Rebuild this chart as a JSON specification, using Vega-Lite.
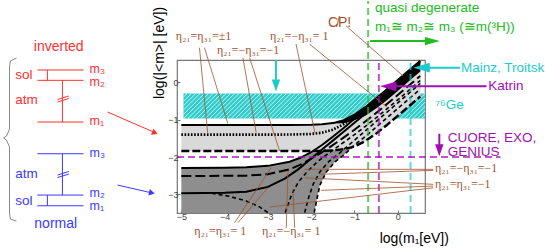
{
"$schema":"https://vega.github.io/schema/vega-lite/v6.json",
"width":248,"height":153,
"padding":{"left":1,"top":0,"right":0,"bottom":0},
"background":"white",
"config":{"view":{"stroke":"#777777","strokeWidth":1.2},"axis":{"grid":false,"domain":false,"title":null,"labelFont":"Liberation Sans","labelFontSize":9,"labelColor":"#444444","tickColor":"#777777","tickSize":-3,"labelPadding":2}},
"datasets":{
"band":[{"x":-4.95,"x2":0.63,"y":-0.3,"y2":-0.97}],
"hatch":[
{"x":-4.95,"y":-0.3925,"x2":-4.87,"y2":-0.3},{"x":-4.95,"y":-0.508,"x2":-4.77,"y2":-0.3},{"x":-4.95,"y":-0.6235,"x2":-4.67,"y2":-0.3},{"x":-4.95,"y":-0.739,"x2":-4.57,"y2":-0.3},{"x":-4.95,"y":-0.8545,"x2":-4.47,"y2":-0.3},
{"x":-4.95,"y":-0.97,"x2":-4.37,"y2":-0.3},{"x":-4.85,"y":-0.97,"x2":-4.27,"y2":-0.3},{"x":-4.75,"y":-0.97,"x2":-4.17,"y2":-0.3},{"x":-4.65,"y":-0.97,"x2":-4.07,"y2":-0.3},{"x":-4.55,"y":-0.97,"x2":-3.97,"y2":-0.3},{"x":-4.45,"y":-0.97,"x2":-3.87,"y2":-0.3},{"x":-4.35,"y":-0.97,"x2":-3.77,"y2":-0.3},{"x":-4.25,"y":-0.97,"x2":-3.67,"y2":-0.3},{"x":-4.15,"y":-0.97,"x2":-3.57,"y2":-0.3},{"x":-4.05,"y":-0.97,"x2":-3.47,"y2":-0.3},
{"x":-3.95,"y":-0.97,"x2":-3.37,"y2":-0.3},{"x":-3.85,"y":-0.97,"x2":-3.27,"y2":-0.3},{"x":-3.75,"y":-0.97,"x2":-3.17,"y2":-0.3},{"x":-3.65,"y":-0.97,"x2":-3.07,"y2":-0.3},{"x":-3.55,"y":-0.97,"x2":-2.97,"y2":-0.3},{"x":-3.45,"y":-0.97,"x2":-2.87,"y2":-0.3},{"x":-3.35,"y":-0.97,"x2":-2.77,"y2":-0.3},{"x":-3.25,"y":-0.97,"x2":-2.67,"y2":-0.3},{"x":-3.15,"y":-0.97,"x2":-2.57,"y2":-0.3},{"x":-3.05,"y":-0.97,"x2":-2.47,"y2":-0.3},
{"x":-2.95,"y":-0.97,"x2":-2.37,"y2":-0.3},{"x":-2.85,"y":-0.97,"x2":-2.27,"y2":-0.3},{"x":-2.75,"y":-0.97,"x2":-2.17,"y2":-0.3},{"x":-2.65,"y":-0.97,"x2":-2.07,"y2":-0.3},{"x":-2.55,"y":-0.97,"x2":-1.97,"y2":-0.3},{"x":-2.45,"y":-0.97,"x2":-1.87,"y2":-0.3},{"x":-2.35,"y":-0.97,"x2":-1.77,"y2":-0.3},{"x":-2.25,"y":-0.97,"x2":-1.67,"y2":-0.3},{"x":-2.15,"y":-0.97,"x2":-1.57,"y2":-0.3},{"x":-2.05,"y":-0.97,"x2":-1.47,"y2":-0.3},
{"x":-1.95,"y":-0.97,"x2":-1.37,"y2":-0.3},{"x":-1.85,"y":-0.97,"x2":-1.27,"y2":-0.3},{"x":-1.75,"y":-0.97,"x2":-1.17,"y2":-0.3},{"x":-1.65,"y":-0.97,"x2":-1.07,"y2":-0.3},{"x":-1.55,"y":-0.97,"x2":-0.97,"y2":-0.3},{"x":-1.45,"y":-0.97,"x2":-0.87,"y2":-0.3},{"x":-1.35,"y":-0.97,"x2":-0.77,"y2":-0.3},{"x":-1.25,"y":-0.97,"x2":-0.67,"y2":-0.3},{"x":-1.15,"y":-0.97,"x2":-0.57,"y2":-0.3},{"x":-1.05,"y":-0.97,"x2":-0.47,"y2":-0.3},
{"x":-0.95,"y":-0.97,"x2":-0.37,"y2":-0.3},{"x":-0.85,"y":-0.97,"x2":-0.27,"y2":-0.3},{"x":-0.75,"y":-0.97,"x2":-0.17,"y2":-0.3},{"x":-0.65,"y":-0.97,"x2":-0.07,"y2":-0.3},{"x":-0.55,"y":-0.97,"x2":0.03,"y2":-0.3},{"x":-0.45,"y":-0.97,"x2":0.13,"y2":-0.3},{"x":-0.35,"y":-0.97,"x2":0.23,"y2":-0.3},{"x":-0.25,"y":-0.97,"x2":0.33,"y2":-0.3},{"x":-0.15,"y":-0.97,"x2":0.43,"y2":-0.3},{"x":-0.05,"y":-0.97,"x2":0.53,"y2":-0.3},{"x":0.05,"y":-0.97,"x2":0.63,"y2":-0.3},
{"x":0.15,"y":-0.97,"x2":0.63,"y2":-0.4155},{"x":0.25,"y":-0.97,"x2":0.63,"y2":-0.531},{"x":0.35,"y":-0.97,"x2":0.63,"y2":-0.6465},{"x":0.45,"y":-0.97,"x2":0.63,"y2":-0.762},{"x":0.55,"y":-0.97,"x2":0.63,"y2":-0.8776}],
"normal":[
{"x":-5,"y":-2.293,"y2":-3.5},{"x":-4,"y":-2.288,"y2":-3.5},{"x":-3.5,"y":-2.275,"y2":-3.5},{"x":-3,"y":-2.237,"y2":-3.5},{"x":-2.5,"y":-2.127,"y2":-3.5},{"x":-2.25,"y":-2.021,"y2":-3.5},{"x":-2,"y":-1.871,"y2":-3.5},{"x":-1.93,"y":-1.82,"y2":-3.5},{"x":-1.88,"y":-1.785,"y2":-3.2},{"x":-1.8,"y":-1.718,"y2":-2.76},{"x":-1.65,"y":-1.593,"y2":-2.4},{"x":-1.45,"y":-1.41,"y2":-2.13},{"x":-1.25,"y":-1.222,"y2":-1.95},{"x":-1,"y":-0.977,"y2":-1.68},{"x":-0.75,"y":-0.729,"y2":-1.45},{"x":-0.5,"y":-0.48,"y2":-1.2},{"x":-0.25,"y":-0.23,"y2":-0.95},{"x":0,"y":0.02,"y2":-0.7},{"x":0.25,"y":0.27,"y2":-0.45},{"x":0.52,"y":0.54,"y2":-0.18}],
"inverted":[
{"x":-5,"y":-1.14,"y2":-1.839},{"x":-3,"y":-1.14,"y2":-1.839},{"x":-2.5,"y":-1.14,"y2":-1.838},{"x":-2,"y":-1.135,"y2":-1.837},{"x":-1.75,"y":-1.124,"y2":-1.834},{"x":-1.5,"y":-1.091,"y2":-1.823},{"x":-1.25,"y":-1.013,"y2":-1.792},{"x":-1,"y":-0.867,"y2":-1.717},{"x":-0.75,"y":-0.664,"y2":-1.574},{"x":-0.5,"y":-0.431,"y2":-1.373},{"x":-0.25,"y":-0.187,"y2":-1.141},{"x":0,"y":0.062,"y2":-0.897},{"x":0.25,"y":0.311,"y2":-0.649},{"x":0.52,"y":0.581,"y2":-0.379}],
"black":[
{"x":-1.6,"y":-1.1,"y2":-1.1},{"x":-1.25,"y":-1.013,"y2":-1.093},{"x":-1,"y":-0.867,"y2":-1.017},{"x":-0.75,"y":-0.664,"y2":-0.894},{"x":-0.5,"y":-0.431,"y2":-0.701},{"x":-0.25,"y":-0.187,"y2":-0.477},{"x":0,"y":0.062,"y2":-0.228},{"x":0.25,"y":0.311,"y2":0.021},{"x":0.52,"y":0.581,"y2":0.291}],
"curves":[
{"c":"IU","x":-5,"y":-1.14},{"c":"IU","x":-3,"y":-1.14},{"c":"IU","x":-2.5,"y":-1.14},{"c":"IU","x":-2,"y":-1.135},{"c":"IU","x":-1.75,"y":-1.124},{"c":"IU","x":-1.5,"y":-1.091},{"c":"IU","x":-1.25,"y":-1.013},{"c":"IU","x":-1,"y":-0.867},{"c":"IU","x":-0.75,"y":-0.664},{"c":"IU","x":-0.5,"y":-0.431},{"c":"IU","x":-0.25,"y":-0.187},{"c":"IU","x":0,"y":0.062},{"c":"IU","x":0.25,"y":0.311},{"c":"IU","x":0.52,"y":0.581},
{"c":"DOT","x":-5,"y":-1.4},{"c":"DOT","x":-3,"y":-1.4},{"c":"DOT","x":-2.5,"y":-1.398},{"c":"DOT","x":-2,"y":-1.383},{"c":"DOT","x":-1.75,"y":-1.349},{"c":"DOT","x":-1.5,"y":-1.268},{"c":"DOT","x":-1.25,"y":-1.12},{"c":"DOT","x":-1,"y":-0.915},{"c":"DOT","x":-0.75,"y":-0.681},
{"c":"IL","x":-5,"y":-1.839},{"c":"IL","x":-3,"y":-1.839},{"c":"IL","x":-2.5,"y":-1.838},{"c":"IL","x":-2,"y":-1.837},{"c":"IL","x":-1.75,"y":-1.834},{"c":"IL","x":-1.5,"y":-1.823},{"c":"IL","x":-1.25,"y":-1.792},{"c":"IL","x":-1,"y":-1.717},{"c":"IL","x":-0.75,"y":-1.574},{"c":"IL","x":-0.5,"y":-1.373},{"c":"IL","x":-0.25,"y":-1.141},{"c":"IL","x":0,"y":-0.897},{"c":"IL","x":0.25,"y":-0.649},{"c":"IL","x":0.52,"y":-0.379},
{"c":"NU","x":-5,"y":-2.293},{"c":"NU","x":-4,"y":-2.288},{"c":"NU","x":-3.5,"y":-2.275},{"c":"NU","x":-3,"y":-2.237},{"c":"NU","x":-2.5,"y":-2.127},{"c":"NU","x":-2.25,"y":-2.021},{"c":"NU","x":-2,"y":-1.871},{"c":"NU","x":-1.75,"y":-1.679},{"c":"NU","x":-1.5,"y":-1.458},{"c":"NU","x":-1.25,"y":-1.222},{"c":"NU","x":-1,"y":-0.977},{"c":"NU","x":-0.75,"y":-0.729},{"c":"NU","x":-0.5,"y":-0.48},{"c":"NU","x":-0.25,"y":-0.23},{"c":"NU","x":0,"y":0.02},{"c":"NU","x":0.25,"y":0.27},{"c":"NU","x":0.52,"y":0.54},
{"c":"NSOLID","x":-5,"y":-2.97},{"c":"NSOLID","x":-4,"y":-2.96},{"c":"NSOLID","x":-3.5,"y":-2.93},{"c":"NSOLID","x":-3,"y":-2.8},{"c":"NSOLID","x":-2.6,"y":-2.57},{"c":"NSOLID","x":-2.3,"y":-2.33},{"c":"NSOLID","x":-2,"y":-2.04},{"c":"NSOLID","x":-1.75,"y":-1.8},{"c":"NSOLID","x":-1.5,"y":-1.56},{"c":"NSOLID","x":-1.25,"y":-1.32},{"c":"NSOLID","x":-1,"y":-1.08},{"c":"NSOLID","x":-0.75,"y":-0.84},
{"c":"NDASH","x":-5,"y":-2.51},{"c":"NDASH","x":-3.5,"y":-2.5},{"c":"NDASH","x":-3,"y":-2.46},{"c":"NDASH","x":-2.5,"y":-2.33},{"c":"NDASH","x":-2.2,"y":-2.18},{"c":"NDASH","x":-1.9,"y":-1.98},{"c":"NDASH","x":-1.6,"y":-1.76},{"c":"NDASH","x":-1.3,"y":-1.52},{"c":"NDASH","x":-1,"y":-1.27},{"c":"NDASH","x":-0.75,"y":-1.05},{"c":"NDASH","x":-0.5,"y":-0.82},{"c":"NDASH","x":-0.25,"y":-0.58},{"c":"NDASH","x":0,"y":-0.34},{"c":"NDASH","x":0.25,"y":-0.09},{"c":"NDASH","x":0.52,"y":0.17},
{"c":"SDASH","x":-4.3,"y":-2.97},{"c":"SDASH","x":-3.9,"y":-3.05},{"c":"SDASH","x":-3.5,"y":-3.18},{"c":"SDASH","x":-3.2,"y":-3.33},{"c":"SDASH","x":-3.0,"y":-3.49},
{"c":"D1","x":-2.6,"y":-3.49},{"c":"D1","x":-2.45,"y":-3.0},{"c":"D1","x":-2.3,"y":-2.68},{"c":"D1","x":-2.1,"y":-2.4},{"c":"D1","x":-1.85,"y":-2.12},{"c":"D1","x":-1.6,"y":-1.9},{"c":"D1","x":-1.3,"y":-1.65},{"c":"D1","x":-1,"y":-1.4},{"c":"D1","x":-0.75,"y":-1.18},{"c":"D1","x":-0.5,"y":-0.95},{"c":"D1","x":-0.25,"y":-0.71},{"c":"D1","x":0,"y":-0.47},{"c":"D1","x":0.25,"y":-0.22},{"c":"D1","x":0.52,"y":0.05},
{"c":"D2","x":-2.15,"y":-3.49},{"c":"D2","x":-2.05,"y":-3.05},{"c":"D2","x":-1.95,"y":-2.72},{"c":"D2","x":-1.8,"y":-2.4},{"c":"D2","x":-1.6,"y":-2.13},{"c":"D2","x":-1.35,"y":-1.9},{"c":"D2","x":-1,"y":-1.55},{"c":"D2","x":-0.75,"y":-1.3},{"c":"D2","x":-0.5,"y":-1.05},{"c":"D2","x":-0.25,"y":-0.8},{"c":"D2","x":0,"y":-0.55},{"c":"D2","x":0.25,"y":-0.3},{"c":"D2","x":0.52,"y":-0.03},
{"c":"NL","x":-1.93,"y":-3.49},{"c":"NL","x":-1.88,"y":-3.2},{"c":"NL","x":-1.8,"y":-2.76},{"c":"NL","x":-1.65,"y":-2.4},{"c":"NL","x":-1.45,"y":-2.13},{"c":"NL","x":-1.25,"y":-1.95},{"c":"NL","x":-1,"y":-1.68},{"c":"NL","x":-0.75,"y":-1.45},{"c":"NL","x":-0.5,"y":-1.2},{"c":"NL","x":-0.25,"y":-0.95},{"c":"NL","x":0,"y":-0.7},{"c":"NL","x":0.25,"y":-0.45},{"c":"NL","x":0.52,"y":-0.18}],
"refs":[
{"k":"degenerate","x":-0.684,"y":-3.5,"x2":-0.684,"y2":2.18},
{"k":"Katrin","x":-0.436,"y":-3.5,"x2":-0.436,"y2":0.6},
{"k":"Mainz","x":0.296,"y":-3.5,"x2":0.296,"y2":0.6},
{"k":"Katrin","x":-5.1,"y":-2,"x2":2.373,"y2":-2}],
"leaders":[
{"x":-4.581,"y":0.93,"x2":-4.389,"y2":-1.384},
{"x":-4.465,"y":0.93,"x2":-3.926,"y2":-1.1},
{"x":-3.578,"y":0.662,"x2":-3.27,"y2":-1.35},
{"x":-3.423,"y":0.662,"x2":-2.729,"y2":-1.84},
{"x":-2.351,"y":1.029,"x2":-1.911,"y2":-1.357},
{"x":-2.034,"y":1.021,"x2":-0.22,"y2":-0.687},
{"x":-1.193,"y":1.512,"x2":0.127,"y2":0.171},
{"x":-3.771,"y":-3.762,"x2":-2.923,"y2":-2.287},
{"x":-3.694,"y":-3.762,"x2":-3.0,"y2":-2.824},
{"x":-2.576,"y":-3.9,"x2":-2.536,"y2":-2.376},
{"x":-2.381,"y":-3.9,"x2":-2.421,"y2":-2.866},
{"x":0.822,"y":-2.33,"x2":-2.15,"y2":-2.33},
{"x":0.822,"y":-2.357,"x2":-1.802,"y2":-2.464},
{"x":0.822,"y":-2.732,"x2":-2.15,"y2":-2.555},
{"x":0.822,"y":-2.778,"x2":-1.765,"y2":-2.893},
{"x":0.822,"y":-2.824,"x2":-2.96,"y2":-3.341}],
"arrows":[
{"k":"Mainz","x":0.6,"y":0.394,"x2":1.44,"y2":0.394},
{"k":"Katrin","x":-0.15,"y":-0.105,"x2":2.05,"y2":-0.105},
{"k":"degenerate","x":-0.637,"y":1.109,"x2":0.7,"y2":1.109},
{"k":"Mainz","x":-2.814,"y":0.6,"x2":-2.814,"y2":0.0},
{"k":"Katrin","x":0.961,"y":-1.376,"x2":0.961,"y2":-1.72}],
"headsLeft":[{"k":"Mainz","x":0.551,"y":0.394},{"k":"Katrin","x":-0.22,"y":-0.105}],
"headsRight":[{"k":"degenerate","x":0.8,"y":1.109}],
"headsDown":[{"k":"Mainz","x":-2.814,"y":-0.084},{"k":"Katrin","x":0.961,"y":-1.818}],
"levels":[
{"k":"inverted","x":-8.326,"y":0.332,"x2":-7.261,"y2":0.332},
{"k":"inverted","x":-8.326,"y":0.055,"x2":-7.261,"y2":0.055},
{"k":"inverted","x":-8.326,"y":-1.062,"x2":-7.261,"y2":-1.062},
{"k":"inverted","x":-8.094,"y":0.332,"x2":-8.094,"y2":0.055},
{"k":"inverted","x":-7.747,"y":0.055,"x2":-7.747,"y2":-1.062},
{"k":"inverted","x":-7.86,"y":-0.459,"x2":-7.6,"y2":-0.365},
{"k":"inverted","x":-7.86,"y":-0.526,"x2":-7.6,"y2":-0.432},
{"k":"inverted","x":-6.705,"y":-0.794,"x2":-5.62,"y2":-1.34},
{"k":"normal","x":-8.326,"y":-1.912,"x2":-7.261,"y2":-1.912},
{"k":"normal","x":-8.326,"y":-3.019,"x2":-7.261,"y2":-3.019},
{"k":"normal","x":-8.326,"y":-3.306,"x2":-7.261,"y2":-3.306},
{"k":"normal","x":-7.747,"y":-1.912,"x2":-7.747,"y2":-3.019},
{"k":"normal","x":-8.094,"y":-3.019,"x2":-8.094,"y2":-3.306},
{"k":"normal","x":-7.86,"y":-2.483,"x2":-7.6,"y2":-2.389},
{"k":"normal","x":-7.86,"y":-2.55,"x2":-7.6,"y2":-2.456},
{"k":"normal","x":-6.473,"y":-2.751,"x2":-5.7,"y2":-2.957}],
"brace":[
{"o":1,"x":-8.81,"y":0.654},{"o":2,"x":-8.95,"y":0.573},{"o":3,"x":-8.97,"y":0.412},{"o":4,"x":-8.97,"y":-1.25},{"o":5,"x":-9.04,"y":-1.438},{"o":6,"x":-9.11,"y":-1.491},{"o":7,"x":-9.04,"y":-1.545},{"o":8,"x":-8.97,"y":-1.732},{"o":9,"x":-8.97,"y":-3.502},{"o":10,"x":-8.95,"y":-3.663},{"o":11,"x":-8.81,"y":-3.716}],
"labelsLeft":[
{"k":"Mainz","t":"Mainz, Troitsk","x":1.46,"y":0.394},
{"k":"Katrin","t":"Katrin","x":2.09,"y":-0.105},
{"k":"Mainz","t":"⁷⁶Ge","x":0.866,"y":-0.606},
{"k":"Katrin","t":"CUORE, EXO,","x":1.153,"y":-1.5},
{"k":"Katrin","t":"GENIUS","x":1.153,"y":-1.87},
{"k":"degenerate","t":"quasi degenerate","x":-0.528,"y":1.986},
{"k":"degenerate","t":"m₁≅ m₂≅ m₃ (≅m(³H))","x":-0.528,"y":1.485},
{"k":"inverted","t":"sol","x":-8.835,"y":0.198},
{"k":"inverted","t":"atm","x":-8.835,"y":-0.472},
{"k":"normal","t":"atm","x":-8.835,"y":-2.464},
{"k":"normal","t":"sol","x":-8.835,"y":-3.18}],
"mlabels":[
{"k":"inverted","t":"m₃","x":-7.122,"y":0.37},
{"k":"inverted","t":"m₂","x":-7.122,"y":0.02},
{"k":"inverted","t":"m₁","x":-7.122,"y":-1.035},
{"k":"normal","t":"m₃","x":-7.122,"y":-1.885},
{"k":"normal","t":"m₂","x":-7.122,"y":-2.96},
{"k":"normal","t":"m₁","x":-7.122,"y":-3.31}],
"labelsCenter":[
{"k":"inverted","t":"inverted","x":-7.833,"y":0.949},
{"k":"normal","t":"normal","x":-7.902,"y":-3.805},
{"k":"axis","t":"log(m₁[eV])","x":0.382,"y":-4.199},
{"k":"eta","t":"C̸P!","x":-1.344,"y":1.592}],
"etaCenter":[
{"t":"η₂₁=η₃₁=±1","x":-4.486,"y":1.243},
{"t":"η₂₁=−η₃₁=−1","x":-3.456,"y":0.868},
{"t":"η₂₁=−η₃₁= 1","x":-2.275,"y":1.243},
{"t":"η₂₁=η₃₁= 1","x":-4.1,"y":-3.985},
{"t":"η₂₁=−η₃₁= 1","x":-2.46,"y":-3.985}],
"etaLeft":[
{"t":"η₂₁=−η₃₁=−1","x":0.861,"y":-2.287},
{"t":"η₂₁=η₃₁=−1","x":0.861,"y":-2.732}],
"ytitle":[{"t":"log(|<m>| [eV])","x":-5.489,"y":0.788}]
},
"encoding":{
"x":{"field":"x","type":"quantitative","scale":{"domain":[-5.1,0.63],"nice":false,"zero":false},"axis":{"values":[-5,-4,-3,-2,-1,0],"title":null}},
"y":{"field":"y","type":"quantitative","scale":{"domain":[-3.5,0.6],"nice":false,"zero":false},"axis":{"values":[-3,-2,-1,0],"title":null}}
},
"layer":[
{"data":{"name":"band"},"mark":{"type":"rect","color":"#2fcccc"},"encoding":{"x2":{"field":"x2"},"y2":{"field":"y2"}}},
{"data":{"name":"hatch"},"mark":{"type":"rule","color":"#ffffff","strokeWidth":1,"opacity":0.75},"encoding":{"x2":{"field":"x2"},"y2":{"field":"y2"}}},
{"data":{"name":"normal"},"mark":{"type":"area","color":"#8e8e8e","opacity":1},"encoding":{"y2":{"field":"y2"}}},
{"data":{"name":"inverted"},"mark":{"type":"area","color":"#d9d9d9","opacity":1},"encoding":{"y2":{"field":"y2"}}},
{"data":{"name":"black"},"mark":{"type":"area","color":"#000000","opacity":1},"encoding":{"y2":{"field":"y2"}}},
{"data":{"name":"curves"},"transform":[{"filter":{"field":"c","oneOf":["IU","NU","NSOLID"]}}],"mark":{"type":"line","color":"#000000","strokeWidth":2},"encoding":{"detail":{"field":"c"}}},
{"data":{"name":"curves"},"transform":[{"filter":{"field":"c","oneOf":["DOT"]}}],"mark":{"type":"line","color":"#000000","strokeWidth":2.6,"strokeDash":[1.6,1.6]},"encoding":{"detail":{"field":"c"}}},
{"data":{"name":"curves"},"transform":[{"filter":{"field":"c","oneOf":["IL"]}}],"mark":{"type":"line","color":"#000000","strokeWidth":2.4,"strokeDash":[8,3]},"encoding":{"detail":{"field":"c"}}},
{"data":{"name":"curves"},"transform":[{"filter":{"field":"c","oneOf":["NDASH"]}}],"mark":{"type":"line","color":"#000000","strokeWidth":2,"strokeDash":[10,4]},"encoding":{"detail":{"field":"c"}}},
{"data":{"name":"curves"},"transform":[{"filter":{"field":"c","oneOf":["SDASH","D1","D2","NL"]}}],"mark":{"type":"line","color":"#000000","strokeWidth":1.6,"strokeDash":[4,3]},"encoding":{"detail":{"field":"c"}}},
{"data":{"name":"refs"},"mark":{"type":"rule","strokeWidth":2,"strokeDash":[7,4],"opacity":0.7},"encoding":{"x2":{"field":"x2"},"y2":{"field":"y2"},"color":{"field":"k","type":"nominal","legend":null,"scale":{"domain":["inverted","normal","Mainz","Katrin","degenerate","eta","axis"],"range":["#ff3030","#3a3aff","#1ccccc","#a010b0","#22bb22","#a0522d","#000000"]}}}},
{"data":{"name":"leaders"},"mark":{"type":"rule","color":"#a0522d","strokeWidth":0.8},"encoding":{"x2":{"field":"x2"},"y2":{"field":"y2"}}},
{"data":{"name":"arrows"},"mark":{"type":"rule","strokeWidth":2},"encoding":{"x2":{"field":"x2"},"y2":{"field":"y2"},"color":{"field":"k","type":"nominal","legend":null,"scale":{"domain":["inverted","normal","Mainz","Katrin","degenerate","eta","axis"],"range":["#ff3030","#3a3aff","#1ccccc","#a010b0","#22bb22","#a0522d","#000000"]}}}},
{"data":{"name":"headsLeft"},"mark":{"type":"point","shape":"M1,-0.6L1,0.6L-1,0Z","size":270,"filled":true,"opacity":1,"strokeWidth":0},"encoding":{"color":{"field":"k","type":"nominal","legend":null,"scale":{"domain":["inverted","normal","Mainz","Katrin","degenerate","eta","axis"],"range":["#ff3030","#3a3aff","#1ccccc","#a010b0","#22bb22","#a0522d","#000000"]}}}},
{"data":{"name":"headsRight"},"mark":{"type":"point","shape":"M-1,-0.55L-1,0.55L1,0Z","size":225,"filled":true,"opacity":1,"strokeWidth":0},"encoding":{"color":{"field":"k","type":"nominal","legend":null,"scale":{"domain":["inverted","normal","Mainz","Katrin","degenerate","eta","axis"],"range":["#ff3030","#3a3aff","#1ccccc","#a010b0","#22bb22","#a0522d","#000000"]}}}},
{"data":{"name":"headsDown"},"mark":{"type":"point","shape":"M-0.7,-1L0.7,-1L0,1Z","size":144,"filled":true,"opacity":1,"strokeWidth":0},"encoding":{"color":{"field":"k","type":"nominal","legend":null,"scale":{"domain":["inverted","normal","Mainz","Katrin","degenerate","eta","axis"],"range":["#ff3030","#3a3aff","#1ccccc","#a010b0","#22bb22","#a0522d","#000000"]}}}},
{"data":{"name":"levels"},"mark":{"type":"rule","strokeWidth":1},"encoding":{"x2":{"field":"x2"},"y2":{"field":"y2"},"color":{"field":"k","type":"nominal","legend":null,"scale":{"domain":["inverted","normal","Mainz","Katrin","degenerate","eta","axis"],"range":["#ff3030","#3a3aff","#1ccccc","#a010b0","#22bb22","#a0522d","#000000"]}}}},
{"data":{"values":[{"x":-5.61,"y":-1.35}]},"mark":{"type":"point","shape":"triangle-right","angle":24,"size":45,"filled":true,"opacity":1,"color":"#ff3030","strokeWidth":0}},
{"data":{"values":[{"x":-5.68,"y":-2.96}]},"mark":{"type":"point","shape":"triangle-right","angle":13,"size":45,"filled":true,"opacity":1,"color":"#3a3aff","strokeWidth":0}},
{"data":{"name":"brace"},"mark":{"type":"line","color":"#888888","strokeWidth":1},"encoding":{"order":{"field":"o","type":"quantitative"}}},
{"data":{"name":"labelsLeft"},"mark":{"type":"text","align":"left","baseline":"middle","font":"Liberation Sans","fontSize":13.5},"encoding":{"text":{"field":"t"},"color":{"field":"k","type":"nominal","legend":null,"scale":{"domain":["inverted","normal","Mainz","Katrin","degenerate","eta","axis"],"range":["#ff3030","#3a3aff","#1ccccc","#a010b0","#22bb22","#a0522d","#000000"]}}}},
{"data":{"name":"mlabels"},"mark":{"type":"text","align":"left","baseline":"middle","font":"Liberation Sans","fontSize":12.5},"encoding":{"text":{"field":"t"},"color":{"field":"k","type":"nominal","legend":null,"scale":{"domain":["inverted","normal","Mainz","Katrin","degenerate","eta","axis"],"range":["#ff3030","#3a3aff","#1ccccc","#a010b0","#22bb22","#a0522d","#000000"]}}}},
{"data":{"name":"labelsCenter"},"mark":{"type":"text","align":"center","baseline":"middle","font":"Liberation Sans","fontSize":14},"encoding":{"text":{"field":"t"},"color":{"field":"k","type":"nominal","legend":null,"scale":{"domain":["inverted","normal","Mainz","Katrin","degenerate","eta","axis"],"range":["#ff3030","#3a3aff","#1ccccc","#a010b0","#22bb22","#a0522d","#000000"]}}}},
{"data":{"name":"etaCenter"},"mark":{"type":"text","align":"center","baseline":"middle","font":"Liberation Serif","fontSize":12,"color":"#a0522d"},"encoding":{"text":{"field":"t"}}},
{"data":{"name":"etaLeft"},"mark":{"type":"text","align":"left","baseline":"middle","font":"Liberation Serif","fontSize":12,"color":"#a0522d"},"encoding":{"text":{"field":"t"}}},
{"data":{"name":"ytitle"},"mark":{"type":"text","align":"center","baseline":"middle","angle":270,"font":"Liberation Sans","fontSize":14,"color":"#000000"},"encoding":{"text":{"field":"t"}}}
]
}
